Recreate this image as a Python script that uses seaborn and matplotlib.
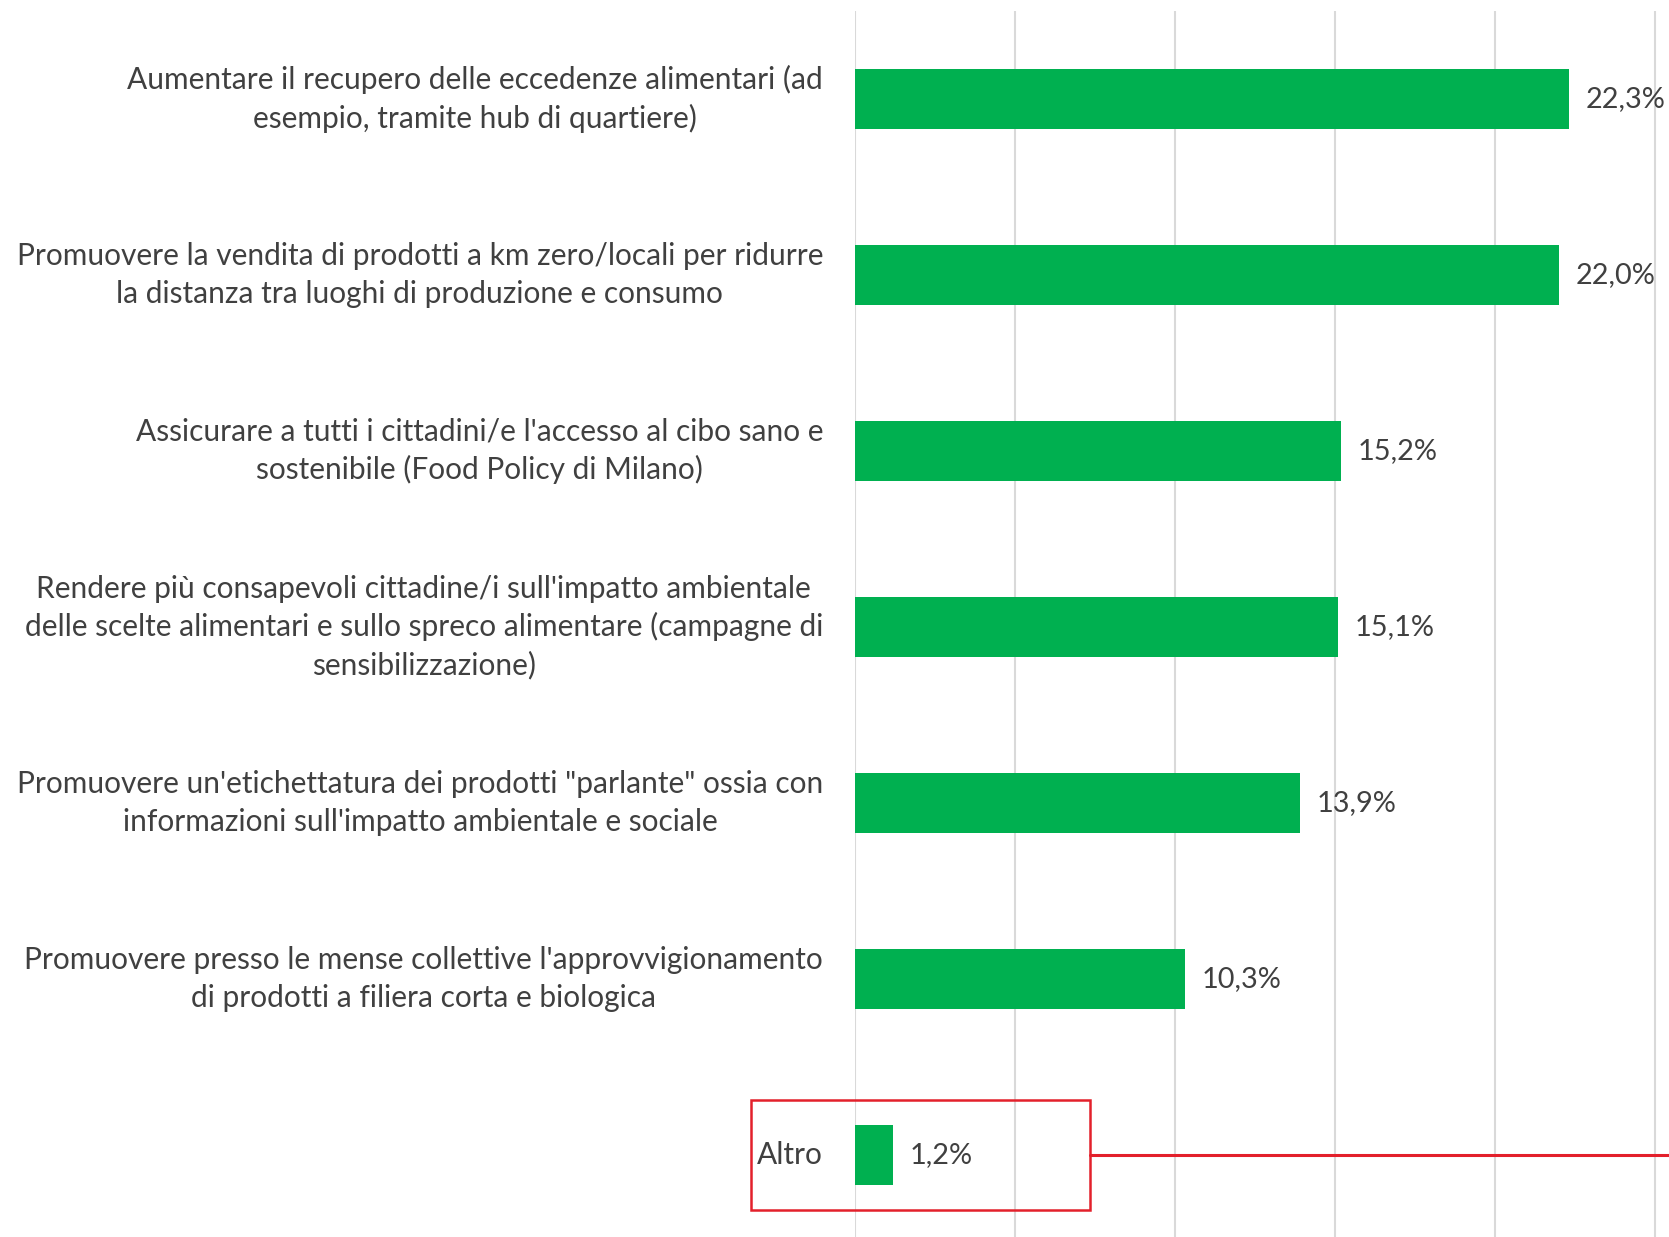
import matplotlib
matplotlib.use("Agg")
import matplotlib.pyplot as plt
import seaborn as sns
import pandas as pd
from matplotlib.patches import Rectangle
from matplotlib.lines import Line2D

# dati
categorie = [
    "Aumentare il recupero delle eccedenze alimentari (ad\nesempio, tramite hub di quartiere)",
    "Promuovere la vendita di prodotti a km zero/locali per ridurre\nla distanza tra luoghi di produzione e consumo",
    "Assicurare a tutti i cittadini/e l'accesso al cibo sano e\nsostenibile (Food Policy di Milano)",
    "Rendere più consapevoli cittadine/i sull'impatto ambientale\ndelle scelte alimentari e sullo spreco alimentare (campagne di\nsensibilizzazione)",
    "Promuovere un'etichettatura dei prodotti \"parlante\" ossia con\ninformazioni sull'impatto ambientale e sociale",
    "Promuovere presso le mense collettive l'approvvigionamento\ndi prodotti a filiera corta e biologica",
    "Altro",
]
valori = [22.3, 22.0, 15.2, 15.1, 13.9, 10.3, 1.2]
griglia = [0, 5, 10, 15, 20, 25]

df = pd.DataFrame({"categoria": categorie, "valore": valori})

sns.set_style("white")
plt.rcParams["font.family"] = ["Lato", "DejaVu Sans"]

testo = "#404040"
verde = "#00B050"
rosso = "#E3202B"

fig = plt.figure(figsize=(16.69, 12.37), dpi=100)
ax = fig.add_axes([855 / 1669, -0.002, 1 - 855 / 1669, 1 - 11 / 1237 + 0.002])

sns.barplot(data=df, x="valore", y="categoria", orient="h", color=verde,
            width=0.345, saturation=1, ax=ax)

for bar in ax.patches:
    bar.set_linewidth(0)

# etichette dei valori
for bars in ax.containers:
    ax.bar_label(bars, labels=[f"{v:.1f}%".replace(".", ",") for v in valori],
                 padding=12, fontsize=20.8, color=testo)

ax.set_xlim(0, 25.44)
ax.set_ylim(6.48, -0.5)
ax.set_xticks(griglia)
ax.xaxis.grid(True, color="#D9D9D9", linewidth=1.5)
ax.set_axisbelow(True)
ax.tick_params(axis="x", labelbottom=False, length=0)
ax.tick_params(axis="y", length=0, pad=23, labelsize=21.5, labelcolor=testo)
for lbl in ax.get_yticklabels():
    lbl.set_multialignment("center")
    lbl.set_linespacing(1.4)
    lbl.set_verticalalignment("center")
ax.set_xlabel("")
ax.set_ylabel("")
sns.despine(ax=ax, left=True, bottom=True, top=True, right=True)

# riquadro rosso attorno a "Altro"
ax.add_patch(Rectangle((-3.24, 5.69), 10.57, 0.62, fill=False, edgecolor=rosso,
                       linewidth=1.8, clip_on=False))
ax.add_line(Line2D([7.33, 27], [6.0, 6.0], color=rosso, linewidth=2.2, clip_on=False))

fig.savefig("out.png", dpi=100)
